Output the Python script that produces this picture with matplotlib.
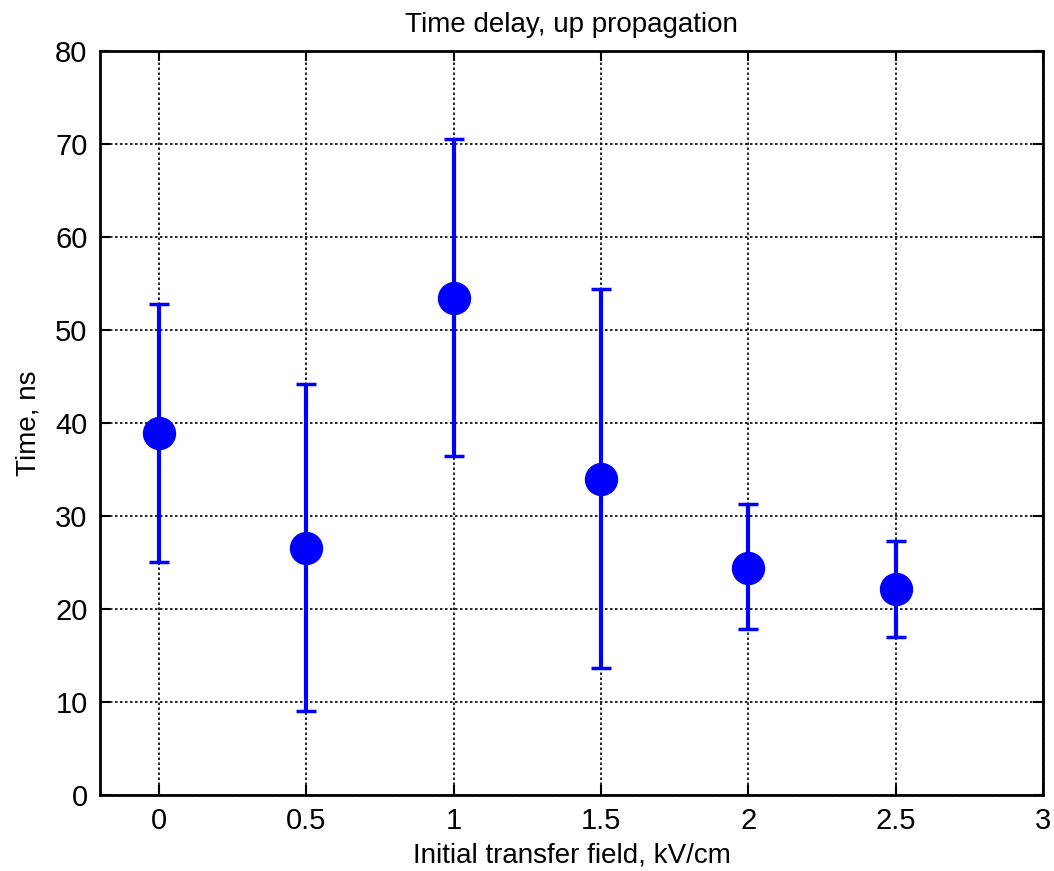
import matplotlib
matplotlib.use("Agg")
import matplotlib.pyplot as plt

plt.rcParams['font.family'] = ['Liberation Sans', 'DejaVu Sans']

# Daten
campo = [0, 0.5, 1, 1.5, 2, 2.5]
tempo = [38.9, 26.6, 53.4, 34.0, 24.4, 22.2]
erro_inf = [13.8, 17.6, 17.0, 20.3, 6.5, 5.2]
erro_sup = [13.9, 17.6, 17.1, 20.4, 6.9, 5.1]

fig = plt.figure(figsize=(10.54, 8.71), dpi=100)
ax = fig.add_axes([0.0949, 0.0873, 0.8947, 0.8541])

ax.errorbar(campo, tempo, yerr=[erro_inf, erro_sup], fmt='o', color='#0000ff',
            markersize=23, elinewidth=3, capsize=7, capthick=2.5, zorder=3)

ax.set_xlim(-0.2, 3)
ax.set_ylim(0, 80)
ax.set_xticks([0, 0.5, 1, 1.5, 2, 2.5, 3])
ax.set_xticklabels(['0', '0.5', '1', '1.5', '2', '2.5', '3'])
ax.set_yticks(range(0, 81, 10))

ax.grid(True, color='black', linestyle=(0, (1.5, 1.5)), linewidth=1.2)
ax.tick_params(direction='in', top=True, right=True, length=7, width=1.5,
               labelsize=21, pad=9)
for s in ax.spines.values():
    s.set_linewidth(2)

ax.set_xlabel('Initial transfer field, kV/cm', fontsize=20, labelpad=5)
ax.set_ylabel('Time, ns', fontsize=20, labelpad=10)
ax.set_title('Time delay, up propagation', fontsize=20, pad=14)

fig.savefig('out.png', dpi=100)
